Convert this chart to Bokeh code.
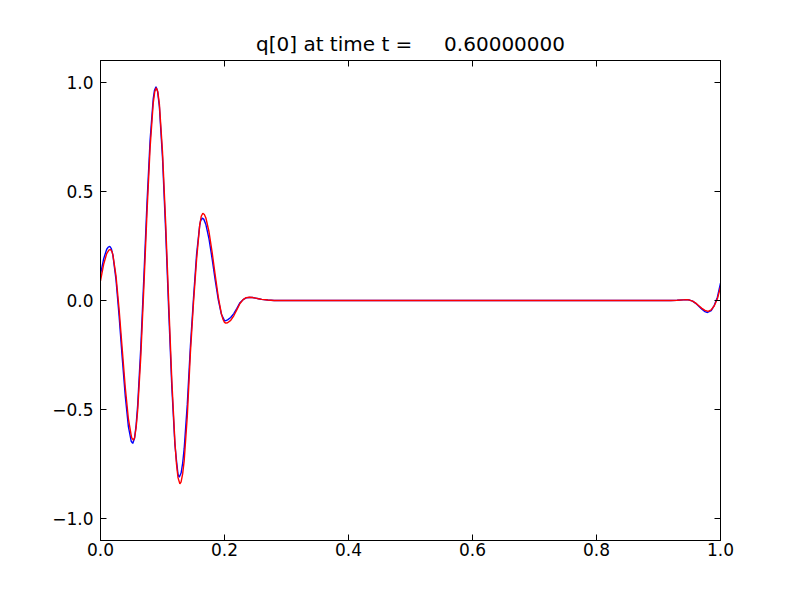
from bokeh.plotting import figure
from bokeh.models import Range1d, LinearAxis, FixedTicker, CustomJSTickFormatter
from bokeh.embed import file_html
from bokeh.resources import INLINE

title_text = "q[0] at time t =\u00a0\u00a0\u00a0\u00a0 0.60000000"

x_ticks = [0.0, 0.2, 0.4, 0.6, 0.8, 1.0]
y_ticks = [-1.0, -0.5, 0.0, 0.5, 1.0]

# red series (x, q)
x_red = [0.000, 0.005, 0.010, 0.0135, 0.016, 0.0185, 0.020, 0.025, 0.030, 0.035,
         0.040, 0.045, 0.050, 0.0505, 0.053, 0.055, 0.0575, 0.060, 0.065, 0.070,
         0.075, 0.080, 0.085, 0.0875, 0.090, 0.0925, 0.095, 0.100, 0.105, 0.110,
         0.115, 0.120, 0.1225, 0.125, 0.128, 0.130, 0.1325, 0.135, 0.140, 0.145,
         0.150, 0.155, 0.160, 0.1625, 0.165, 0.1675, 0.170, 0.175, 0.180, 0.185,
         0.190, 0.195, 0.1975, 0.200, 0.202, 0.205, 0.210, 0.215, 0.220, 0.225,
         0.230, 0.235, 0.240, 0.245, 0.250, 0.255, 0.260, 0.270, 0.280, 0.400,
         0.600, 0.800, 0.920, 0.930, 0.940, 0.945, 0.950, 0.955, 0.960, 0.965,
         0.970, 0.975, 0.980, 0.985, 0.990, 0.995, 1.000]
q_red = [0.090, 0.165, 0.215, 0.231, 0.234, 0.224, 0.209, 0.113, -0.040, -0.221,
         -0.400, -0.543, -0.626, -0.630, -0.640, -0.629, -0.582, -0.502, -0.256, 0.065,
         0.404, 0.700, 0.903, 0.957, 0.975, 0.956, 0.899, 0.682, 0.362, -0.007,
         -0.364, -0.648, -0.748, -0.812, -0.840, -0.831, -0.795, -0.734, -0.530, -0.240,
         -0.010, 0.189, 0.345, 0.386, 0.400, 0.394, 0.378, 0.315, 0.222, 0.116,
         0.016, -0.061, -0.086, -0.100, -0.104, -0.102, -0.091, -0.070, -0.042, -0.014,
         0.004, 0.013, 0.015, 0.014, 0.011, 0.008, 0.005, 0.002, 0.000, 0.000,
         0.000, 0.000, 0.000, 0.001, 0.003, 0.004, 0.002, -0.003, -0.012, -0.024,
         -0.036, -0.045, -0.050, -0.043, -0.024, 0.008, 0.062]

# blue series (x, q)
x_blue = [0.000, 0.005, 0.010, 0.0125, 0.015, 0.0175, 0.020, 0.025, 0.030, 0.035,
          0.040, 0.045, 0.0495, 0.052, 0.055, 0.0575, 0.060, 0.065, 0.070, 0.075,
          0.080, 0.085, 0.087, 0.0895, 0.092, 0.095, 0.100, 0.105, 0.110, 0.115,
          0.120, 0.1225, 0.125, 0.127, 0.130, 0.1325, 0.135, 0.140, 0.145, 0.150,
          0.155, 0.160, 0.1615, 0.164, 0.1665, 0.170, 0.175, 0.180, 0.185, 0.190,
          0.195, 0.200, 0.201, 0.205, 0.210, 0.215, 0.220, 0.225, 0.230, 0.235,
          0.240, 0.245, 0.250, 0.255, 0.260, 0.270, 0.280, 0.400, 0.600, 0.800,
          0.920, 0.930, 0.940, 0.945, 0.950, 0.955, 0.960, 0.965, 0.970, 0.975,
          0.979, 0.985, 0.990, 0.995, 1.000]
q_blue = [0.120, 0.190, 0.235, 0.245, 0.248, 0.238, 0.208, 0.095, -0.071, -0.261,
          -0.440, -0.578, -0.645, -0.655, -0.630, -0.570, -0.478, -0.216, 0.111, 0.448,
          0.734, 0.923, 0.962, 0.980, 0.960, 0.887, 0.655, 0.326, -0.046, -0.394,
          -0.660, -0.733, -0.797, -0.810, -0.791, -0.746, -0.678, -0.475, -0.210, 0.010,
          0.213, 0.344, 0.365, 0.378, 0.373, 0.348, 0.282, 0.192, 0.093, 0.003,
          -0.063, -0.092, -0.093, -0.089, -0.078, -0.060, -0.036, -0.010, 0.004, 0.012,
          0.014, 0.014, 0.011, 0.008, 0.005, 0.002, 0.000, 0.000, 0.000, 0.000,
          0.000, 0.001, 0.003, 0.004, 0.002, -0.003, -0.013, -0.026, -0.040, -0.051,
          -0.055, -0.046, -0.022, 0.015, 0.079]

FONT = "DejaVu Sans"

p = figure(output_backend="svg", toolbar_location=None,
           frame_width=620, frame_height=480,
           min_border_left=100, min_border_right=80,
           min_border_top=60, min_border_bottom=60,
           x_range=Range1d(0, 1), y_range=Range1d(-1.1, 1.1),
           title=title_text)

p.title.text_font = FONT
p.title.text_font_size = "20px"
p.title.text_font_style = "normal"
p.title.align = "center"
p.title.text_color = "black"
p.title.standoff = 9

p.grid.visible = False
p.background_fill_color = "white"
p.border_fill_color = "white"
p.outline_line_color = "black"
p.outline_line_width = 1

fmt = CustomJSTickFormatter(code="return tick.toFixed(1).replace('-', '\\u2212');")
blank = CustomJSTickFormatter(code="return '';")

def style_axis(ax, ticks, labels):
    ax.ticker = FixedTicker(ticks=ticks)
    ax.minor_tick_line_color = None
    ax.major_tick_in = 6
    ax.major_tick_out = 0
    ax.major_tick_line_color = "black"
    ax.axis_line_color = "black"
    ax.major_label_text_font = FONT
    ax.major_label_text_color = "black"
    if labels:
        ax.formatter = fmt
        ax.major_label_text_font_size = "17px"
    else:
        ax.formatter = blank
        ax.major_label_text_font_size = "0px"
        ax.major_label_standoff = 0

style_axis(p.xaxis[0], x_ticks, True)
style_axis(p.yaxis[0], y_ticks, True)
p.xaxis[0].major_label_standoff = 2
p.yaxis[0].major_label_standoff = 7

top = LinearAxis()
right = LinearAxis()
style_axis(top, x_ticks, False)
style_axis(right, y_ticks, False)
p.add_layout(top, "above")
p.add_layout(right, "right")

p.line(x_blue, q_blue, line_color="#0000ff", line_width=1.4)
p.line(x_red, q_red, line_color="#ff0000", line_width=1.4)

open("out.html", "w").write(file_html(p, INLINE))
